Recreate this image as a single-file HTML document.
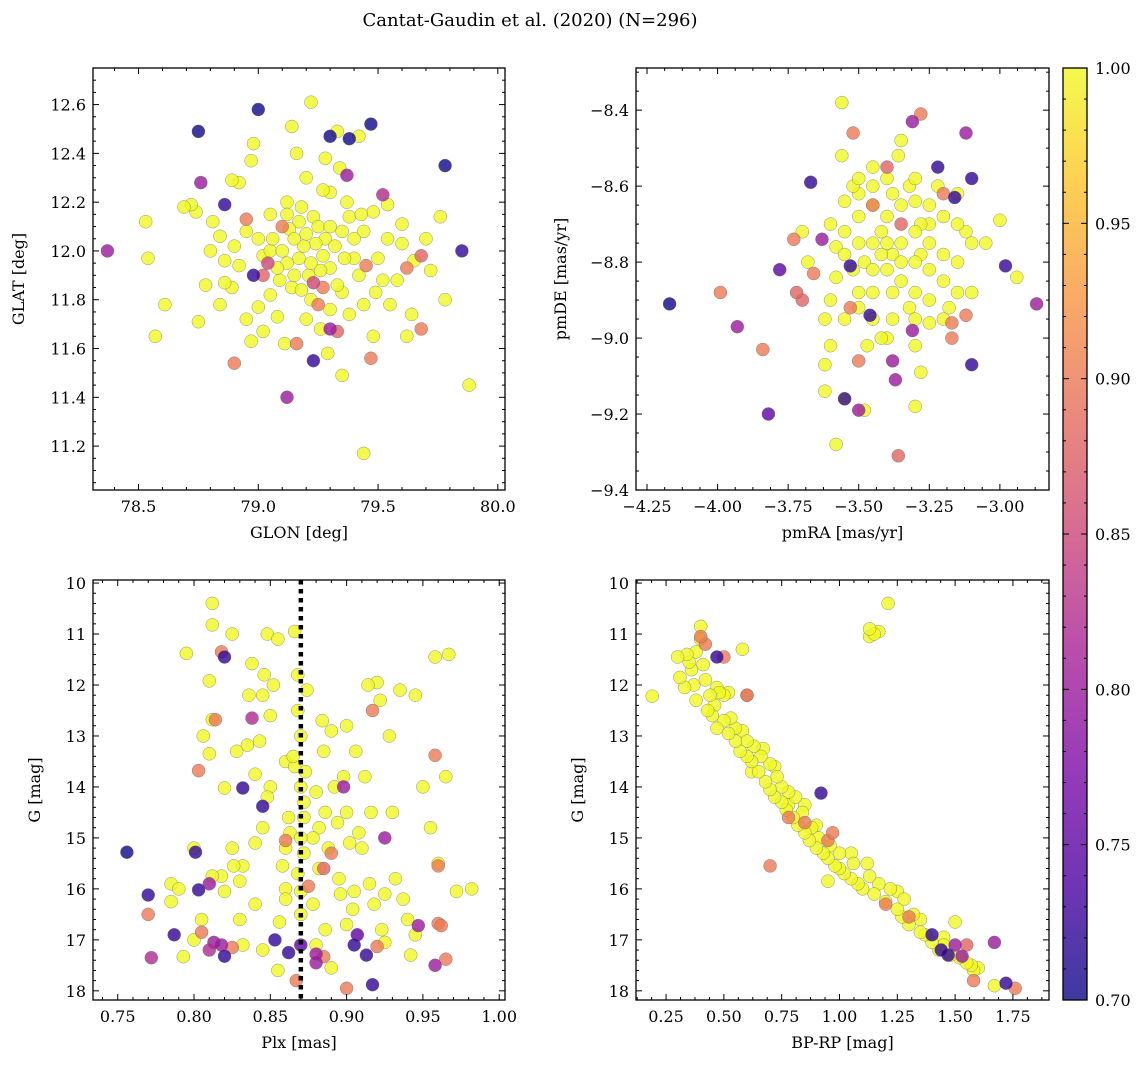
<!DOCTYPE html>
<html><head><meta charset="utf-8"><style>
body{margin:0;background:#fff;}
svg text{font-family:"DejaVu Serif","Liberation Serif",serif;fill:#000;}
</style></head><body>
<svg id="chart" width="1148" height="1067" viewBox="0 0 1148 1067" xmlns="http://www.w3.org/2000/svg">
<defs><linearGradient id="cbg" x1="0" y1="1" x2="0" y2="0">
<stop offset="0" stop-color="#3d3a9f"/><stop offset="0.125" stop-color="#6f35b4"/><stop offset="0.25" stop-color="#983bb9"/><stop offset="0.375" stop-color="#b94eab"/><stop offset="0.5" stop-color="#d56b94"/><stop offset="0.625" stop-color="#ea897d"/><stop offset="0.75" stop-color="#f9a967"/><stop offset="0.875" stop-color="#fdcf53"/><stop offset="1" stop-color="#f3fa4d"/></linearGradient></defs>
<text x="530" y="26" font-size="18" text-anchor="middle">Cantat-Gaudin et al. (2020) (N=296)</text>
</svg>
<script>
// ---- Panel 1 data: GLON / GLAT / membership probability ----
const glon=[79.0,78.75,79.3,79.38,79.47,79.37,78.76,78.86,79.78,79.85,78.37,78.98,79.23,79.12,78.9,79.3,79.47,79.52,79.68,79.62,79.68,79.45,79.25,79.16,79.23,79.04,79.02,78.95,79.1,79.27,79.33,
79.22,79.14,79.33,79.42,78.98,79.16,79.28,79.34,78.97,78.89,78.92,78.53,78.54,78.57,78.61,78.69,78.72,78.74,78.75,78.78,78.8,78.81,78.84,78.84,78.86,78.89,78.92,78.95,78.97,79.02,79.05,79.08,79.06,79.12,79.18,79.27,79.3,79.37,79.43,79.48,79.54,79.6,79.54,79.58,79.6,79.62,79.55,79.49,79.48,79.44,79.35,79.29,79.3,79.38,79.42,79.36,79.4,79.44,79.3,79.25,79.2,79.15,79.1,79.12,79.17,79.22,79.27,79.32,79.35,79.19,79.24,79.21,79.26,79.15,79.3,79.33,79.18,79.22,79.14,79.09,79.05,79.0,79.02,79.28,79.13,79.17,79.23,79.4,79.38,79.5,79.52,79.65,79.72,79.78,79.88,79.76,79.64,79.7,79.08,79.2,79.11,79.0,78.9,78.95,79.05,78.86,79.44,79.35,79.12,79.2,79.26];
const glat=[12.58,12.49,12.47,12.46,12.52,12.31,12.28,12.19,12.35,12.0,12.0,11.9,11.55,11.4,11.54,11.68,11.56,12.23,11.68,11.93,11.98,11.94,11.78,11.62,11.87,11.95,11.9,12.13,12.1,11.85,11.67,
12.61,12.51,12.49,12.47,12.44,12.4,12.38,12.34,12.37,12.29,12.28,12.12,11.97,11.65,11.78,12.18,12.19,12.16,11.71,11.86,12.0,12.12,11.78,12.06,11.87,11.85,11.94,11.72,11.63,11.67,11.82,11.93,12.05,12.15,12.18,12.25,12.24,12.2,12.15,12.16,12.19,12.11,12.05,11.88,12.03,11.65,11.78,11.83,11.65,11.17,11.49,11.58,11.76,11.74,11.9,11.97,12.05,12.08,12.1,12.1,12.07,12.05,12.0,11.95,11.97,11.95,11.98,12.02,12.08,12.02,12.03,11.9,11.92,11.9,11.93,11.86,11.84,11.8,11.85,11.88,12.0,12.05,11.98,12.05,12.09,12.12,12.14,11.97,12.14,11.97,11.88,11.96,11.92,11.8,11.45,12.14,11.74,12.05,11.73,11.72,11.62,11.77,12.02,12.08,12.15,11.96,11.78,11.83,12.2,12.3,11.68];
const prob1=[0.7,0.7,0.7,0.7,0.7,0.8,0.8,0.72,0.7,0.72,0.8,0.72,0.72,0.8,0.9,0.8,0.9,0.82,0.9,0.9,0.88,0.9,0.9,0.9,0.85,0.85,0.88,0.9,0.9,0.9,0.88];
// ---- Panel 2 data: pmRA / pmDE ----
const pmra=[-4.17,-3.67,-3.22,-3.1,-3.16,-2.98,-3.1,-3.55,-3.37,-3.38,-3.5,-3.31,-3.31,-3.12,-2.87,-3.93,-3.82,-3.78,-3.63,-3.53,-3.46,-3.28,-3.52,-3.99,-3.84,-3.73,-3.72,-3.66,-3.7,-3.53,-3.5,-3.36,-3.17,-3.17,-3.12,-3.2,-3.4,-3.45,-3.35,
-3.56,-3.56,-3.35,-3.36,-3.45,-3.4,-3.3,-3.5,-3.52,-3.55,-3.6,-3.55,-3.45,-3.4,-3.35,-3.3,-3.25,-3.2,-3.15,-3.0,-2.94,-3.05,-3.1,-3.15,-3.2,-3.25,-3.3,-3.35,-3.4,-3.45,-3.5,-3.55,-3.58,-3.52,-3.45,-3.4,-3.35,-3.3,-3.25,-3.2,-3.15,-3.25,-3.3,-3.38,-3.45,-3.5,-3.6,-3.62,-3.55,-3.45,-3.38,-3.3,-3.25,-3.42,-3.3,-3.28,-3.47,-3.6,-3.62,-3.62,-3.55,-3.48,-3.58,-3.3,-3.4,-3.7,-3.68,-3.5,-3.42,-3.38,-3.32,-3.22,-3.28,-3.35,-3.42,-3.48,-3.1,-3.2,-3.45,-3.38,-3.32,-3.5,-3.58,-3.25,-3.28,-3.15,-3.12,-3.18,-3.5];
const pmde=[-8.91,-8.59,-8.55,-8.58,-8.63,-8.81,-9.07,-9.16,-9.11,-9.06,-9.19,-8.98,-8.43,-8.46,-8.91,-8.97,-9.2,-8.82,-8.74,-8.81,-8.94,-8.41,-8.46,-8.88,-9.03,-8.74,-8.88,-8.83,-8.9,-8.92,-9.06,-9.31,-8.96,-9.0,-8.94,-8.62,-8.55,-8.65,-8.7,
-8.38,-8.52,-8.48,-8.52,-8.55,-8.58,-8.58,-8.58,-8.6,-8.64,-8.7,-8.72,-8.65,-8.68,-8.65,-8.64,-8.65,-8.68,-8.7,-8.69,-8.84,-8.75,-8.75,-8.8,-8.78,-8.75,-8.72,-8.75,-8.75,-8.75,-8.75,-8.78,-8.84,-8.82,-8.82,-8.82,-8.8,-8.8,-8.82,-8.85,-8.88,-8.9,-8.88,-8.88,-8.88,-8.88,-8.9,-8.95,-8.95,-8.95,-8.95,-8.95,-8.96,-9.0,-9.02,-9.09,-9.02,-9.02,-9.07,-9.14,-9.16,-9.19,-9.28,-9.18,-9.0,-8.72,-8.8,-8.68,-8.72,-8.62,-8.6,-8.6,-8.7,-8.85,-8.78,-8.8,-8.88,-8.95,-8.6,-8.78,-8.92,-8.92,-8.76,-8.7,-8.78,-8.62,-8.72,-8.92,-8.62];
const prob2=[0.7,0.72,0.72,0.72,0.72,0.72,0.72,0.72,0.8,0.8,0.8,0.8,0.8,0.8,0.8,0.8,0.75,0.75,0.8,0.72,0.72,0.9,0.9,0.9,0.9,0.9,0.88,0.9,0.88,0.9,0.9,0.88,0.9,0.9,0.9,0.9,0.88,0.9,0.88];
// ---- Panel 3 data: Plx / G ----
const plx=[0.756,0.77,0.787,0.801,0.803,0.82,0.82,0.832,0.845,0.853,0.862,0.905,0.913,0.917,0.907,0.87,0.772,0.81,0.813,0.818,0.838,0.81,0.88,0.925,0.947,0.958,0.898,0.88,0.77,0.803,0.805,0.814,0.818,0.825,0.867,0.885,0.885,0.9,0.917,0.92,0.958,0.96,0.962,0.965,0.96,0.89,0.875,0.86,
0.812,0.812,0.825,0.795,0.81,0.812,0.806,0.81,0.82,0.79,0.785,0.793,0.805,0.8,0.812,0.818,0.82,0.825,0.826,0.83,0.832,0.828,0.835,0.836,0.838,0.84,0.843,0.845,0.846,0.845,0.848,0.85,0.85,0.852,0.855,0.848,0.856,0.855,0.858,0.86,0.86,0.862,0.865,0.866,0.868,0.866,0.868,0.87,0.872,0.872,0.87,0.872,0.868,0.87,0.87,0.87,0.873,0.874,0.878,0.878,0.88,0.882,0.882,0.884,0.885,0.886,0.886,0.888,0.89,0.892,0.894,0.895,0.896,0.898,0.9,0.9,0.902,0.904,0.906,0.905,0.908,0.91,0.912,0.914,0.915,0.916,0.918,0.92,0.922,0.923,0.925,0.928,0.93,0.932,0.935,0.937,0.94,0.942,0.945,0.95,0.955,0.958,0.967,0.965,0.972,0.982,0.96,0.945,0.83,0.84,0.84,0.832,0.845,0.8,0.785,0.86,0.89,0.9,0.925,0.88,0.86,0.863];
const gmag3=[15.28,16.12,16.9,15.28,16.02,17.32,11.45,14.02,14.38,17.0,17.25,17.1,17.3,17.88,16.9,17.1,17.35,17.2,17.05,17.1,12.65,15.9,17.28,15.0,16.72,17.5,14.0,17.45,16.5,13.68,16.85,12.68,11.35,17.15,17.8,17.33,15.6,17.95,12.5,17.13,13.38,15.55,16.72,17.38,16.68,15.3,15.95,15.05,
10.4,10.82,11.0,11.38,11.92,12.68,13.0,13.35,14.02,16.0,16.25,17.33,16.6,15.2,15.75,15.75,16.05,15.2,15.55,15.85,15.55,13.3,13.18,12.2,11.58,13.75,13.1,12.2,11.8,14.8,14.2,14.0,12.6,12.0,11.1,11.0,16.65,17.6,15.55,15.2,16.2,14.6,13.4,13.6,11.8,10.95,12.5,14.0,14.3,14.6,15.0,15.3,15.7,16.05,16.5,13.0,13.7,12.1,15.0,16.3,14.1,14.8,15.6,12.7,13.3,14.5,16.8,15.2,12.9,14.0,14.7,15.8,16.1,13.8,12.8,14.5,15.1,16.4,13.3,16.05,14.9,15.2,13.8,12.0,15.9,14.5,16.3,11.95,12.3,16.8,16.1,13.0,14.5,15.8,12.1,16.2,16.6,17.3,12.2,14.0,14.8,11.45,11.4,13.8,16.05,16.0,15.5,16.9,16.6,16.3,15.1,17.1,17.2,17.0,15.9,13.5,17.55,16.7,17.05,17.1,16.0,14.9];
const prob3=[0.7,0.72,0.72,0.72,0.72,0.72,0.72,0.72,0.72,0.72,0.72,0.72,0.72,0.72,0.75,0.75,0.82,0.82,0.8,0.8,0.82,0.8,0.8,0.8,0.8,0.8,0.8,0.8,0.9,0.9,0.9,0.9,0.9,0.9,0.9,0.9,0.88,0.9,0.9,0.9,0.9,0.9,0.9,0.9,0.9,0.9,0.9,0.9];
const plxMedian=0.870;
// ---- Panel 4 data: BP-RP / G ----
const bprp=[0.4,0.47,0.92,0.7,0.97,0.95,0.78,0.85,0.5,1.4,1.44,1.47,1.53,1.5,1.55,1.58,1.67,1.72,1.76,1.3,1.2,0.42,0.6,
0.19,0.3,0.31,0.33,0.34,0.35,0.36,0.37,0.38,0.38,0.4,0.4,0.41,0.42,0.43,0.44,0.45,0.46,0.47,0.48,0.5,0.5,0.52,0.53,0.55,0.55,0.57,0.58,0.6,0.6,0.62,0.63,0.65,0.66,0.68,0.7,0.7,0.72,0.73,0.75,0.75,0.77,0.78,0.8,0.81,0.82,0.84,0.85,0.87,0.88,0.9,0.91,0.93,0.95,0.96,0.98,1.0,1.0,1.02,1.05,1.06,1.08,1.1,1.12,1.13,1.15,1.17,1.2,1.22,1.25,1.27,1.28,1.3,1.32,1.35,1.37,1.4,1.43,1.45,1.48,1.5,1.52,1.55,1.57,1.58,1.6,1.67,0.95,1.13,1.15,1.17,1.21,1.13,0.6,0.52,0.47,0.9,0.85,0.72,0.67,1.05,1.25,1.35,1.45,0.78,0.62,0.58];
const gmag4=[11.05,11.45,14.12,15.55,14.9,15.05,14.6,14.7,11.45,16.9,17.2,17.3,17.32,17.1,17.1,17.8,17.05,17.85,17.95,16.55,16.3,11.2,12.2,
12.22,11.45,11.85,12.05,11.4,11.55,11.7,12.0,12.3,11.35,10.85,11.1,11.6,11.9,12.5,12.2,12.6,12.4,12.85,12.15,12.2,12.7,12.95,12.65,13.1,12.85,13.3,11.3,13.4,13.1,13.5,13.2,13.7,13.4,13.9,14.05,13.55,14.2,13.8,14.3,14.0,14.45,14.1,14.6,14.2,14.75,14.5,14.9,15.05,14.8,15.2,15.0,15.3,15.4,15.15,15.55,15.6,15.3,15.7,15.8,15.5,15.9,16.0,15.5,15.75,16.1,15.9,16.25,16.0,16.4,16.55,16.2,16.7,16.5,16.85,16.9,17.05,17.2,17.1,17.3,16.65,17.35,17.45,17.5,17.6,17.55,17.9,15.85,10.9,11.0,10.95,10.4,11.05,12.2,12.15,12.05,14.75,14.35,13.6,13.25,15.3,16.05,16.6,16.95,14.35,13.7,12.9];
const prob4=[0.9,0.72,0.72,0.9,0.9,0.9,0.9,0.9,0.9,0.72,0.72,0.72,0.8,0.8,0.88,0.9,0.8,0.72,0.9,0.9,0.9,0.9,0.88];
const cbTicks=[0.70,0.75,0.80,0.85,0.90,0.95,1.00];

const NS='http://www.w3.org/2000/svg';
const svg=document.getElementById('chart');
function el(tag,attrs,parent){const e=document.createElementNS(NS,tag);for(const k in attrs)e.setAttribute(k,attrs[k]);(parent||svg).appendChild(e);return e;}
const stops=[[13,8,135],[76,2,161],[126,3,168],[168,34,150],[203,70,121],[229,107,93],[248,148,65],[253,195,40],[240,249,33]];
function plasma(p){let t=(p-0.7)/0.3;t=Math.max(0,Math.min(1,t))*8;const i=Math.min(7,Math.floor(t)),f=t-i;const a=stops[i],b=stops[i+1];return 'rgb('+a.map((v,k)=>Math.round(v+(b[k]-v)*f)).join(',')+')';}
function fmt(v,d){const s=v.toFixed(d);return s.replace('-','\u2212');}

function panel(o){
  const g=el('g',{});
  
  
  const X=v=>o.x0+(v-o.xmin)/(o.xmax-o.xmin)*(o.x1-o.x0);
  const Y=o.yinv?v=>o.y0+(v-o.ymin)/(o.ymax-o.ymin)*(o.y1-o.y0):v=>o.y1-(v-o.ymin)/(o.ymax-o.ymin)*(o.y1-o.y0);
  const pts=el('g',{},g);
  
  
  const n=o.xs.length;
  for(let i=n-1;i>=0;i--){
    const p=i<o.ps.length?o.ps[i]:1.0;
    const c=el('circle',{cx:X(o.xs[i]).toFixed(1),cy:Y(o.ys[i]).toFixed(1),r:6.5,fill:plasma(p),'fill-opacity':0.8,stroke:'#666','stroke-width':0.5,'stroke-opacity':0.7},pts);
    
    
  }
  if(o.extra)o.extra(g,X,Y);
  const fr=el('rect',{x:o.x0,y:o.y0,width:o.x1-o.x0,height:o.y1-o.y0,fill:'none',stroke:'#000','stroke-width':1.3},g);
  
  
  const eps=1e-9;
  for(let v=Math.ceil((o.xmin-eps)/o.xminor)*o.xminor;v<=o.xmax+eps;v+=o.xminor){
    const isMaj=Math.abs(v/o.xmajor-Math.round(v/o.xmajor))<1e-6;const L=isMaj?6:3;const x=X(v);
    el('line',{x1:x,x2:x,y1:o.y1,y2:o.y1-L,stroke:'#000','stroke-width':1},g);
    el('line',{x1:x,x2:x,y1:o.y0,y2:o.y0+L,stroke:'#000','stroke-width':1},g);
    if(isMaj){const t=el('text',{x:x,y:o.y1+22,'font-size':16,'text-anchor':'middle'},g);t.textContent=fmt(v,o.xd);
      }
  }
  for(let v=Math.ceil((o.ymin-eps)/o.yminor)*o.yminor;v<=o.ymax+eps;v+=o.yminor){
    const isMaj=Math.abs(v/o.ymajor-Math.round(v/o.ymajor))<1e-6;const L=isMaj?6:3;const y=Y(v);
    el('line',{x1:o.x0,x2:o.x0+L,y1:y,y2:y,stroke:'#000','stroke-width':1},g);
    el('line',{x1:o.x1,x2:o.x1-L,y1:y,y2:y,stroke:'#000','stroke-width':1},g);
    if(isMaj){const t=el('text',{x:o.x0-7,y:y+6,'font-size':16,'text-anchor':'end'},g);t.textContent=fmt(v,o.yd);
      }
  }
  const xl=el('text',{x:(o.x0+o.x1)/2,y:o.y1+48,'font-size':16,'text-anchor':'middle'},g);xl.textContent=o.xlabel;
  
  const yx=o.ylx,yy=(o.y0+o.y1)/2;
  const yl=el('text',{x:yx,y:yy,'font-size':16,'text-anchor':'middle',transform:'rotate(-90 '+yx+' '+yy+')'},g);yl.textContent=o.ylabel;
  
}

panel({name:'glon-glat-panel',xs:glon,ys:glat,ps:prob1,x0:93,x1:505,y0:68,y1:490,xmin:78.31,xmax:80.03,ymin:11.02,ymax:12.75,xmajor:0.5,xminor:0.1,ymajor:0.2,yminor:0.05,xd:1,yd:1,xlabel:'GLON [deg]',ylabel:'GLAT [deg]',ylx:24});
panel({name:'proper-motion-panel',xs:pmra,ys:pmde,ps:prob2,x0:636,x1:1049,y0:68,y1:490,xmin:-4.289,xmax:-2.826,ymin:-9.4,ymax:-8.289,xmajor:0.25,xminor:0.0625,ymajor:0.2,yminor:0.05,xd:2,yd:1,xlabel:'pmRA [mas/yr]',ylabel:'pmDE [mas/yr]',ylx:566});
panel({name:'parallax-panel',xs:plx,ys:gmag3,ps:prob3,x0:93,x1:505,y0:580,y1:1000,xmin:0.7338,xmax:1.0038,ymin:9.94,ymax:18.18,yinv:true,xmajor:0.05,xminor:0.01,ymajor:1,yminor:0.2,xd:2,yd:0,xlabel:'Plx [mas]',ylabel:'G [mag]',ylx:40,
  extra:(g,X,Y)=>{const l=el('line',{x1:X(plxMedian),x2:X(plxMedian),y1:580,y2:1000,stroke:'#000','stroke-width':4.5,'stroke-dasharray':'4.5,4.5'},g);
    }});
panel({name:'cmd-panel',xs:bprp,ys:gmag4,ps:prob4,x0:636,x1:1049,y0:580,y1:1000,xmin:0.12,xmax:1.906,ymin:9.94,ymax:18.18,yinv:true,xmajor:0.25,xminor:0.0625,ymajor:1,yminor:0.2,xd:2,yd:0,xlabel:'BP-RP [mag]',ylabel:'G [mag]',ylx:583});

const cb=el('g',{});


const cx0=1063,cx1=1087,cy0=68,cy1=1000;
el('rect',{x:cx0,y:cy0,width:cx1-cx0,height:cy1-cy0,fill:'url(#cbg)',stroke:'#000','stroke-width':1.3},cb);
const CY=v=>cy1-(v-0.7)/0.3*(cy1-cy0);
for(let k=0;k<=30;k++){const v=0.7+k*0.01;const y=CY(v);const maj=k%5===0;
  el('line',{x1:cx1,x2:cx1-(maj?6:3),y1:y,y2:y,stroke:'#000','stroke-width':1},cb);
  el('line',{x1:cx0,x2:cx0+(maj?6:3),y1:y,y2:y,stroke:'#000','stroke-width':1},cb);}
cbTicks.forEach(v=>{const t=el('text',{x:cx1+8,y:CY(v)+6,'font-size':16},cb);t.textContent=v.toFixed(2);
  });
</script>
</body></html>
